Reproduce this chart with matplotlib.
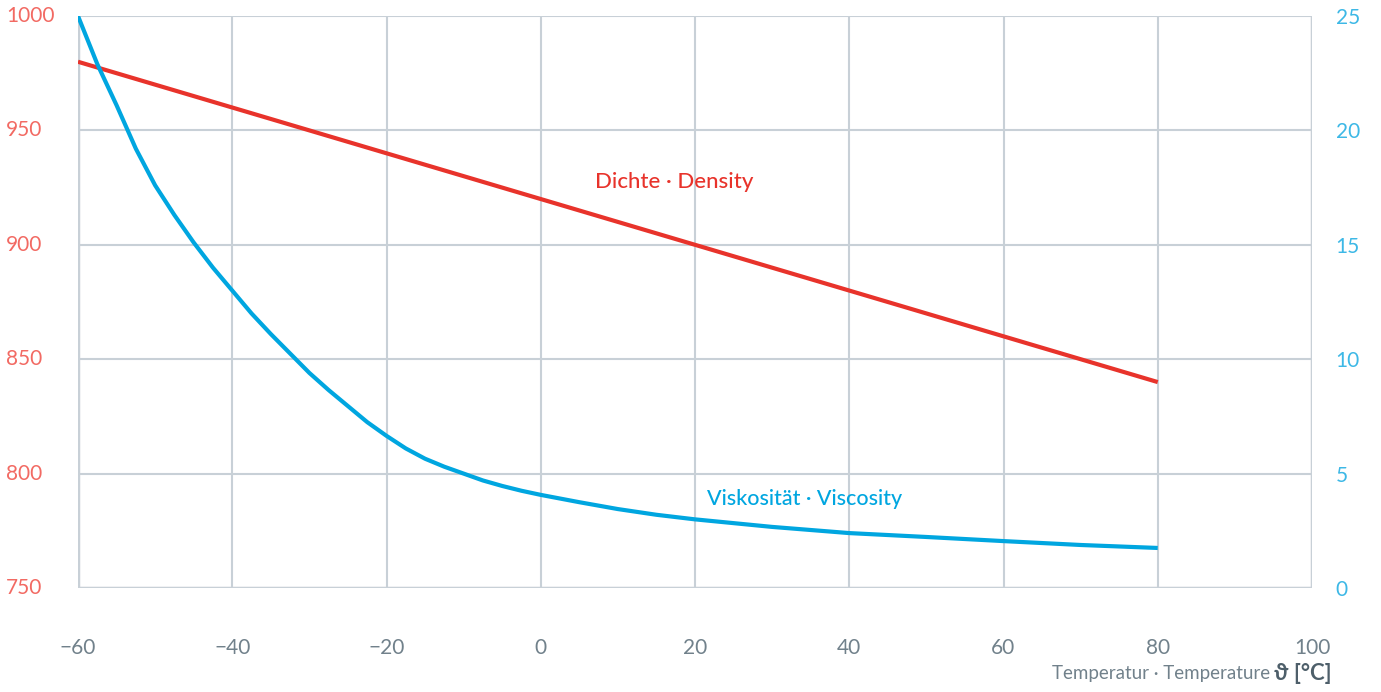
import matplotlib.pyplot as plt
from matplotlib.transforms import blended_transform_factory

temp_density = [-60, 80]
density = [980, 840]

temp_visc = [-60, -57.5, -55, -52.5, -50, -47.5, -45, -42.5, -40, -37.5, -35, -32.5,
             -30, -27.5, -25, -22.5, -20, -17.5, -15, -12.5, -10, -7.5, -5, -2.5, 0,
             5, 10, 15, 20, 30, 40, 50, 60, 70, 80]
viscosity = [25.0, 22.9, 21.1, 19.2, 17.6, 16.3, 15.1, 14.0, 13.0, 12.0, 11.1, 10.25,
             9.4, 8.65, 7.95, 7.25, 6.65, 6.1, 5.65, 5.3, 5.0, 4.7, 4.46, 4.25, 4.07,
             3.75, 3.45, 3.2, 3.0, 2.67, 2.4, 2.23, 2.05, 1.88, 1.75]

x_ticks = [-60, -40, -20, 0, 20, 40, 60, 80, 100]
x_labels = ["\u221260", "\u221240", "\u221220", "0", "20", "40", "60", "80", "100"]
left_ticks = [750, 800, 850, 900, 950, 1000]
right_ticks = [0, 5, 10, 15, 20, 25]

RED = "#E8332B"
RED_LIGHT = "#F26A63"
BLUE = "#00A6E0"
BLUE_LIGHT = "#3DB8E6"
GRID = "#C8D0D7"
GREY = "#71818B"

plt.rcParams["font.family"] = ["Lato", "DejaVu Sans"]

fig = plt.figure(figsize=(13.81, 6.92), dpi=100)
ax = fig.add_axes([78 / 1381, 1 - 588 / 692, (1312 - 78) / 1381, (588 - 16) / 692])
ax2 = ax.twinx()

ax.set_xlim(-60, 100)
ax.set_ylim(750, 1000)
ax2.set_ylim(0, 25)

ax.set_xticks(x_ticks)
ax.set_xticklabels(x_labels)
ax.set_yticks(left_ticks)
ax.set_yticklabels([])
ax2.set_yticks(right_ticks)

ax.grid(True, color=GRID, linewidth=1.5, zorder=0)
for a in (ax, ax2):
    for s in a.spines.values():
        s.set_visible(False)
ax.axhline(750, color=GRID, linewidth=2.5, zorder=1)
ax.axvline(-60, color=GRID, linewidth=2.5, zorder=1)
ax.axvline(100, color=GRID, linewidth=2.5, zorder=1)

ax.tick_params(axis="x", length=0, pad=36, labelsize=15, labelcolor=GREY)
ax.tick_params(axis="y", length=0)
ax2.tick_params(axis="y", length=0, pad=17, labelsize=15, labelcolor=BLUE_LIGHT)

# left tick labels, left-aligned at the figure edge
trans = blended_transform_factory(fig.transFigure, ax.transData)
for t in left_ticks:
    ax.text(6 / 1381, t, str(t), transform=trans, color=RED_LIGHT, fontsize=15,
            ha="left", va="center", clip_on=False)

ax.plot(temp_density, density, color=RED, linewidth=3, zorder=3, solid_capstyle="butt")
ax2.plot(temp_visc, viscosity, color=BLUE, linewidth=3, zorder=3, solid_capstyle="butt",
         solid_joinstyle="round")

ax.text(7, 927.5, "Dichte \u00b7 Density", color=RED, fontsize=16, fontweight="medium",
        ha="left", va="center")
ax2.text(21.5, 3.9, "Viskosit\u00e4t \u00b7 Viscosity", color=BLUE, fontsize=15.5,
         fontweight="medium", ha="left", va="center")

ypos = 1 - 674 / 692
unit = fig.text(1332 / 1381, ypos, "\u03d1 [\u00b0C]", color="#4E5F6A",
                fontsize=16, fontweight="bold", ha="right", va="center")
prefix = fig.text(1332 / 1381, ypos, "Temperatur \u00b7 Temperature ", color=GREY,
                  fontsize=13.5, ha="right", va="center")
fig.canvas.draw()
w = unit.get_window_extent().width / 1381
prefix.set_x(1332 / 1381 - w)

fig.savefig("out.png", dpi=100)
